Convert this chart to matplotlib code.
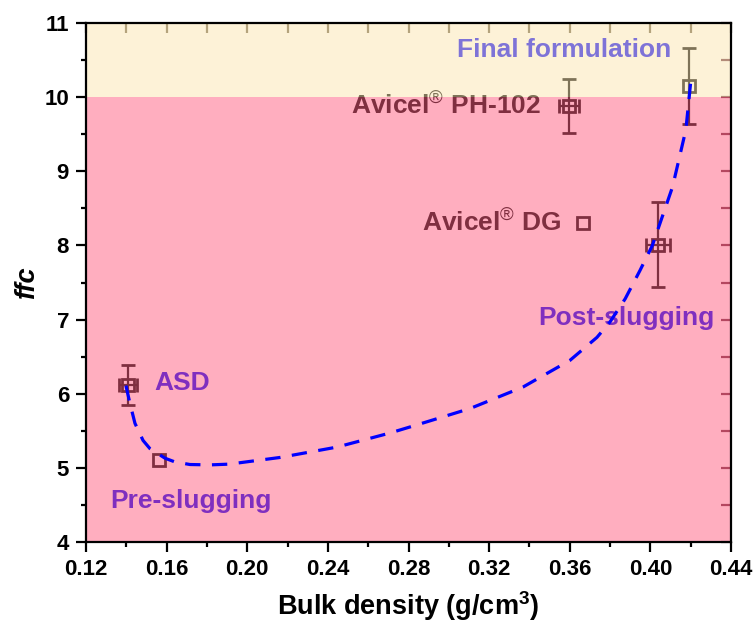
import matplotlib
matplotlib.use("Agg")
import matplotlib.pyplot as plt

plt.rcParams['font.family'] = ['Liberation Sans', 'DejaVu Sans']
plt.rcParams['mathtext.fontset'] = 'custom'
plt.rcParams['mathtext.rm'] = 'Liberation Sans'
plt.rcParams['mathtext.bf'] = 'Liberation Sans:bold'
plt.rcParams['mathtext.it'] = 'Liberation Sans:italic'

# samples: bulk density, ffc and their standard deviations (0 = no bar)
names = ['ASD', 'Pre-slugging', 'Avicel DG', 'Post-slugging', 'Avicel PH-102', 'Final formulation']
density = [0.141, 0.156, 0.3664, 0.4036, 0.3596, 0.4192]
density_sd = [0.0045, 0.0, 0.0, 0.006, 0.005, 0.0]
ffc = [6.12, 5.11, 8.30, 8.01, 9.88, 10.15]
ffc_sd = [0.27, 0.0, 0.0, 0.57, 0.36, 0.51]

# trend line through the processing route
trend_x = [0.1398, 0.1418, 0.1443, 0.1483, 0.1517, 0.1592, 0.1641, 0.1716,
           0.1815, 0.191, 0.2162, 0.2445, 0.2708, 0.2842, 0.3105, 0.3368,
           0.3601, 0.3735, 0.380, 0.3875, 0.3948, 0.401, 0.411, 0.4176, 0.420]
trend_y = [6.11, 5.87, 5.60, 5.37, 5.26, 5.13, 5.08, 5.045,
           5.04, 5.05, 5.14, 5.28, 5.47, 5.58, 5.80, 6.09,
           6.45, 6.76, 6.97, 7.28, 7.66, 8.00, 8.79, 9.56, 10.20]

fig = plt.figure(figsize=(7.55, 6.28), dpi=100)
ax = fig.add_axes([86 / 755, 86 / 628, 645 / 755, 519 / 628])

for x, xe, y, ye in zip(density, density_sd, ffc, ffc_sd):
    ax.errorbar(x, y, xerr=xe if xe else None, yerr=ye if ye else None,
                fmt='s', ms=9, mfc='none', mec='black', mew=2,
                ecolor='black', elinewidth=1.6, capsize=5, capthick=1.6, zorder=2)

lab = dict(fontsize=19, fontweight='bold', zorder=2)
ax.text(0.154, 6.14, 'ASD', color='blue', ha='left', va='center', **lab)
ax.text(0.132, 4.55, 'Pre-slugging', color='blue', ha='left', va='center', **lab)
ax.text(0.356, 8.30, r'Avicel$^{\mathrm{®}}$ DG', color='black', ha='right', va='center', **lab)
ax.text(0.432, 7.02, 'Post-slugging', color='blue', ha='right', va='center', **lab)
ax.text(0.3457, 9.88, r'Avicel$^{\mathrm{®}}$ PH-102', color='black', ha='right', va='center', **lab)
ax.text(0.4105, 10.64, 'Final formulation', color='blue', ha='right', va='center', **lab)

# translucent ffc regions laid over the data
ax.axhspan(10, 11, color=(253 / 255, 231 / 255, 177 / 255), alpha=0.5, lw=0, zorder=3)
ax.axhspan(4, 10, color=(1.0, 95 / 255, 129 / 255), alpha=0.5, lw=0, zorder=3)

ax.plot(trend_x, trend_y, color='blue', lw=2.3, ls=(0, (4.8, 3.6)), zorder=5)

ax.set_xlim(0.12, 0.44)
ax.set_ylim(4, 11)
ax.set_xticks([0.12 + 0.04 * i for i in range(9)])
ax.set_xticks([0.14 + 0.04 * i for i in range(8)], minor=True)
ax.set_yticks(range(4, 12))
ax.set_yticks([4.5 + i for i in range(7)], minor=True)
ax.set_xticklabels(['%.2f' % t for t in ax.get_xticks()])

ax.set_axisbelow(True)
for s in ax.spines.values():
    s.set_linewidth(1.6)
    s.set_zorder(10)

ax.tick_params(which='both', direction='out', width=1.6, labelsize=16, top=False, right=False)
ax.tick_params(which='major', length=7.2)
ax.tick_params(which='minor', length=3.6)
ax.tick_params(axis='x', pad=5)
ax.tick_params(axis='y', pad=5)
for t in ax.get_xticklabels() + ax.get_yticklabels():
    t.set_fontweight('bold')

# inner ticks along top and right edges
top = ax.secondary_xaxis('top')
top.set_xticks([0.12 + 0.02 * i for i in range(17)])
top.tick_params(direction='in', length=7, width=1.6, labeltop=False, color='#6b6048')
top.spines['top'].set_visible(False)
right = ax.secondary_yaxis('right')
right.set_yticks([4 + 0.5 * i for i in range(15)])
right.tick_params(direction='in', length=7, width=1.6, labelright=False, color='#6a3040')
right.spines['right'].set_visible(False)

ax.set_xlabel(r'Bulk density (g/cm$^{\mathbf{3}}$)', fontsize=19.5, fontweight='bold', labelpad=7)
ax.set_ylabel('ffc', fontsize=19.5, fontweight='bold', fontstyle='italic', labelpad=3)

fig.savefig('out.png', dpi=100)
